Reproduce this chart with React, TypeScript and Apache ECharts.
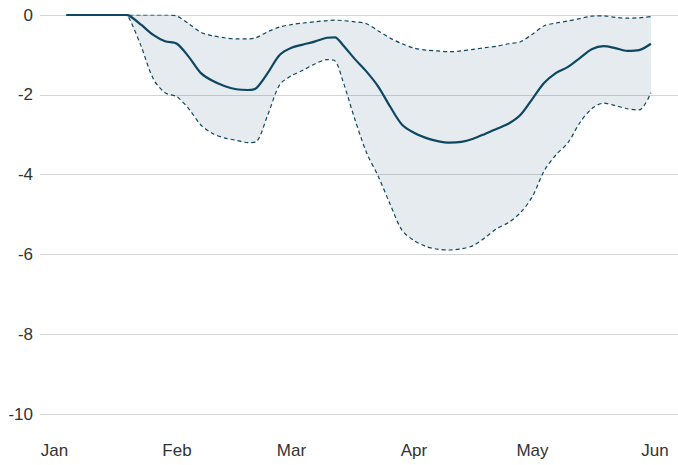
import React, { useEffect, useRef } from "react";
import * as echarts from "echarts";

const dates: string[] = [
  "2020-01-04", "2020-01-19", "2020-01-20", "2020-01-23", "2020-01-26", "2020-01-29",
  "2020-02-01", "2020-02-04", "2020-02-07", "2020-02-10", "2020-02-13", "2020-02-16",
  "2020-02-19", "2020-02-21", "2020-02-24", "2020-02-27", "2020-03-01", "2020-03-04",
  "2020-03-07", "2020-03-10", "2020-03-12", "2020-03-14", "2020-03-17", "2020-03-20",
  "2020-03-23", "2020-03-26", "2020-03-29", "2020-04-01", "2020-04-04", "2020-04-07",
  "2020-04-10", "2020-04-13", "2020-04-16", "2020-04-19", "2020-04-22", "2020-04-25",
  "2020-04-28", "2020-05-01", "2020-05-04", "2020-05-07", "2020-05-10", "2020-05-13",
  "2020-05-16", "2020-05-19", "2020-05-22", "2020-05-25", "2020-05-28", "2020-05-31",
];

const meanValues: number[] = [
  0, 0, -0.02, -0.25, -0.5, -0.66,
  -0.72, -1.05, -1.45, -1.65, -1.78, -1.86,
  -1.88, -1.84, -1.45, -1.0, -0.82, -0.74,
  -0.66, -0.57, -0.56, -0.75, -1.1, -1.42,
  -1.8, -2.3, -2.75, -2.95, -3.08, -3.16,
  -3.2, -3.18, -3.1, -2.98, -2.85, -2.72,
  -2.5, -2.1, -1.7, -1.45, -1.3, -1.08,
  -0.86, -0.78, -0.83, -0.9, -0.88, -0.72,
];

const lowerValues: number[] = [
  0, 0, -0.1, -0.8, -1.6, -1.95,
  -2.05, -2.35, -2.75, -2.97, -3.08, -3.14,
  -3.2, -3.18, -2.5, -1.75, -1.52, -1.38,
  -1.22, -1.12, -1.15, -1.65, -2.6, -3.45,
  -4.05, -4.75, -5.4, -5.65, -5.8, -5.87,
  -5.89, -5.86, -5.78, -5.58, -5.35, -5.2,
  -4.95, -4.55, -3.9, -3.5, -3.2, -2.7,
  -2.35, -2.21, -2.27, -2.35, -2.38, -1.95,
];

const upperValues: number[] = [
  0, 0, 0, 0, 0, 0,
  -0.03, -0.22, -0.43, -0.52, -0.57, -0.6,
  -0.6, -0.57, -0.42, -0.3, -0.24, -0.2,
  -0.17, -0.14, -0.13, -0.14, -0.17, -0.22,
  -0.4, -0.58, -0.72, -0.83, -0.88, -0.9,
  -0.92, -0.9, -0.86, -0.82, -0.78, -0.72,
  -0.67, -0.48, -0.27, -0.2, -0.15, -0.09,
  -0.03, -0.02, -0.06, -0.08, -0.07, -0.04,
];

const monthTicks: string[] = ["2020-01-01", "2020-02-01", "2020-03-01", "2020-04-01", "2020-05-01", "2020-06-01"];
const monthLabels: string[] = ["Jan", "Feb", "Mar", "Apr", "May", "Jun"];

const yTicks = { min: -10, max: 0, interval: 2 };

const toTime = (s: string) => {
  const [y, m, d] = s.split("-").map(Number);
  return Date.UTC(y, m - 1, d);
};

const DAY = 86400000;
const LINE = "#0e4761";

export default function App() {
  const ref = useRef<HTMLDivElement>(null);
  useEffect(() => {
    if (!ref.current) return;
    const chart = echarts.init(ref.current, undefined, { renderer: "svg" });
    const tickTimes = monthTicks.map(toTime);
    const xMin = tickTimes[0] - 3.67 * DAY;
    const xMax = tickTimes[0] + 157.85 * DAY;
    const pts = (vals: number[]) => dates.map((d, i) => [toTime(d), vals[i]]);
    const diff = lowerValues.map((v, i) => v - upperValues[i]);
    chart.setOption({
      animation: false,
      grid: { left: 40, right: 0, top: 15, bottom: 51 },
      xAxis: [
        {
          type: "value",
          min: xMin,
          max: xMax,
          axisLine: { show: false },
          axisTick: { show: false },
          splitLine: { show: false },
          axisLabel: {
            customValues: tickTimes,
            formatter: (v: number) => {
              const idx = tickTimes.findIndex((t) => Math.abs(t - v) < DAY / 2);
              return idx >= 0 ? monthLabels[idx] : "";
            },
            color: "#333",
            fontSize: 17,
            fontFamily: "Liberation Sans, Arial, sans-serif",
            margin: 28,
            showMinLabel: true,
            showMaxLabel: true,
          },
        },
        {
          type: "time",
          min: xMin,
          max: xMax,
          show: false,
        },
      ],
      yAxis: {
        type: "value",
        min: yTicks.min,
        max: yTicks.max,
        interval: yTicks.interval,
        axisLine: { show: false },
        axisTick: { show: false },
        splitLine: { lineStyle: { color: "#d4d4d4", width: 1 } },
        axisLabel: {
          color: "#333",
          fontSize: 17,
          fontFamily: "Liberation Sans, Arial, sans-serif",
          margin: 7,
        },
      },
      series: [
        {
          type: "line",
          xAxisIndex: 1,
          data: pts(upperValues),
          stack: "band",
          smooth: 0.3,
          symbol: "none",
          lineStyle: { opacity: 0 },
          silent: true,
          z: 1,
        },
        {
          type: "line",
          xAxisIndex: 1,
          data: pts(diff),
          stack: "band",
          smooth: 0.3,
          symbol: "none",
          lineStyle: { opacity: 0 },
          areaStyle: { color: LINE, opacity: 0.11 },
          silent: true,
          z: 1,
        },
        {
          type: "line",
          data: pts(upperValues),
          smooth: 0.3,
          symbol: "none",
          lineStyle: { color: LINE, width: 1.2, type: [4, 3] },
          z: 2,
        },
        {
          type: "line",
          data: pts(lowerValues),
          smooth: 0.3,
          symbol: "none",
          lineStyle: { color: LINE, width: 1.2, type: [4, 3] },
          z: 2,
        },
        {
          type: "line",
          data: pts(meanValues),
          smooth: 0.3,
          symbol: "none",
          lineStyle: { color: LINE, width: 2.2 },
          z: 3,
        },
      ],
    });
    return () => chart.dispose();
  }, []);
  return <div ref={ref} style={{ width: 678, height: 465, position: "absolute", left: 0, top: 0 }} />;
}
